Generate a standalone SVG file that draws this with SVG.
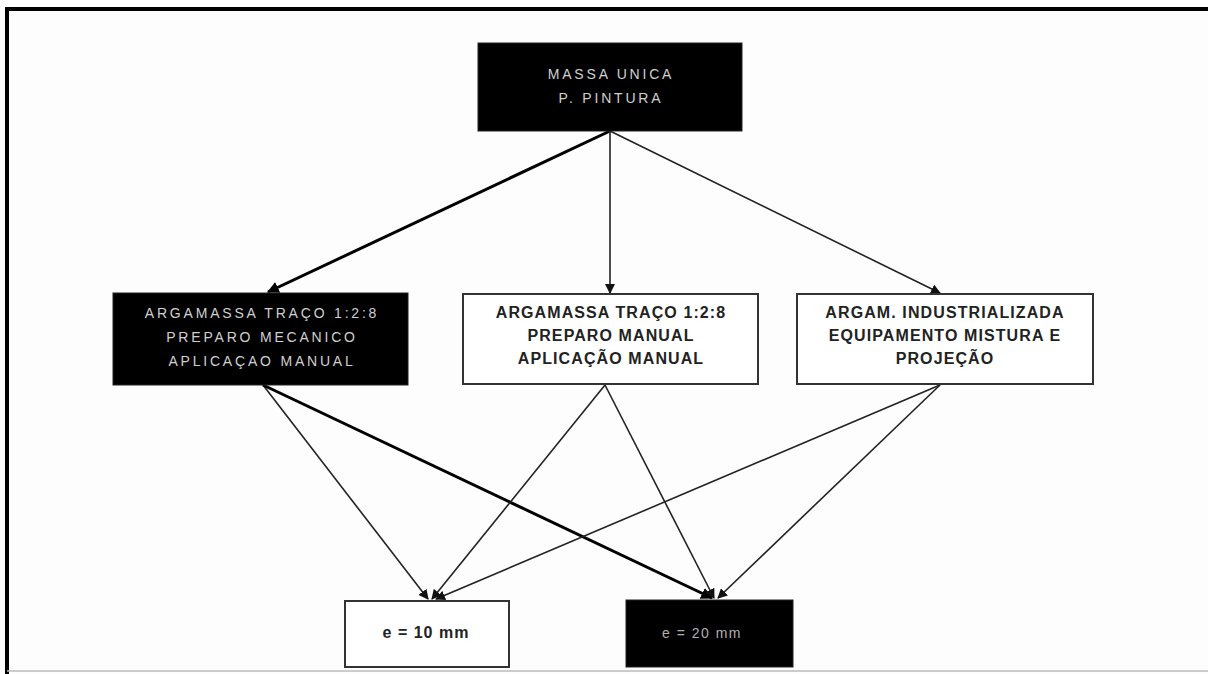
<svg xmlns="http://www.w3.org/2000/svg" width="1208" height="674" viewBox="0 0 1208 674">
<defs>
<marker id="ah" viewBox="0 0 10 10" refX="9" refY="5" markerWidth="10" markerHeight="10" markerUnits="userSpaceOnUse" orient="auto">
<path d="M0,0 L10,5 L0,10 z" fill="#111"/>
</marker>
<marker id="ahb" viewBox="0 0 10 10" refX="9" refY="5" markerWidth="12" markerHeight="12" markerUnits="userSpaceOnUse" orient="auto">
<path d="M0,0 L10,5 L0,10 z" fill="#000"/>
</marker>
</defs>
<style>
.dark{fill:#000;stroke:#222;stroke-width:1}
.light{fill:#fff;stroke:#333;stroke-width:2}
.tl{font-family:"Liberation Sans",Arial,sans-serif;font-size:14px;fill:#d0d0d0;text-anchor:middle;letter-spacing:2.8px}
.tb{font-family:"Liberation Sans",Arial,sans-serif;font-size:16px;font-weight:bold;fill:#222;text-anchor:middle;letter-spacing:1.1px}
.thin{stroke:#222;stroke-width:1.6;fill:none;marker-end:url(#ah)}
.thick{stroke:#000;stroke-width:3;fill:none;marker-end:url(#ahb)}
</style>
<rect x="0" y="0" width="1208" height="674" fill="#fdfdfd"/>
<g id="frame">
<line x1="5" y1="9" x2="1208" y2="9" stroke="#000" stroke-width="4"/>
<line x1="7" y1="7" x2="7" y2="674" stroke="#000" stroke-width="4"/>
<line x1="7" y1="671" x2="1208" y2="671" stroke="#bbb" stroke-width="1.5"/>
</g>
<g id="connectors">
<line class="thick" x1="610" y1="131" x2="268" y2="292"/>
<line class="thin" x1="610" y1="131" x2="610" y2="293"/>
<line class="thin" x1="610" y1="131" x2="940" y2="293"/>
<line class="thin" x1="263" y1="385" x2="428" y2="599"/>
<line class="thick" x1="263" y1="385" x2="712" y2="598"/>
<line class="thin" x1="605" y1="385" x2="432" y2="599"/>
<line class="thin" x1="605" y1="385" x2="714" y2="598"/>
<line class="thin" x1="940" y1="385" x2="436" y2="599"/>
<line class="thin" x1="940" y1="385" x2="718" y2="598"/>
</g>
<g id="massa-unica">
<rect class="dark" x="478" y="43" width="264" height="88"/>
<text class="tl" x="611" y="79">MASSA UNICA</text>
<text class="tl" x="611" y="103">P. PINTURA</text>
</g>
<g id="arg-mecanico">
<rect class="dark" x="113" y="293" width="295" height="92"/>
<text class="tl" x="262" y="318">ARGAMASSA TRAÇO 1:2:8</text>
<text class="tl" x="262" y="342">PREPARO MECANICO</text>
<text class="tl" x="262" y="366">APLICAÇAO MANUAL</text>
</g>
<g id="arg-manual">
<rect class="light" x="463" y="294" width="295" height="90"/>
<text class="tb" x="611" y="318">ARGAMASSA TRAÇO 1:2:8</text>
<text class="tb" x="611" y="341">PREPARO MANUAL</text>
<text class="tb" x="611" y="364">APLICAÇÃO MANUAL</text>
</g>
<g id="arg-industrial">
<rect class="light" x="797" y="294" width="296" height="90"/>
<text class="tb" x="945" y="318">ARGAM. INDUSTRIALIZADA</text>
<text class="tb" x="945" y="341">EQUIPAMENTO  MISTURA E</text>
<text class="tb" x="945" y="364">PROJEÇÃO</text>
</g>
<g id="e10">
<rect class="light" x="345" y="601" width="164" height="66"/>
<text class="tb" x="426" y="638" style="letter-spacing:1px">e = 10 mm</text>
</g>
<g id="e20">
<rect class="dark" x="626" y="600" width="167" height="67"/>
<text class="tl" x="702" y="638" style="letter-spacing:1.5px;fill:#b0b0b0">e = 20 mm</text>
</g>
</svg>
